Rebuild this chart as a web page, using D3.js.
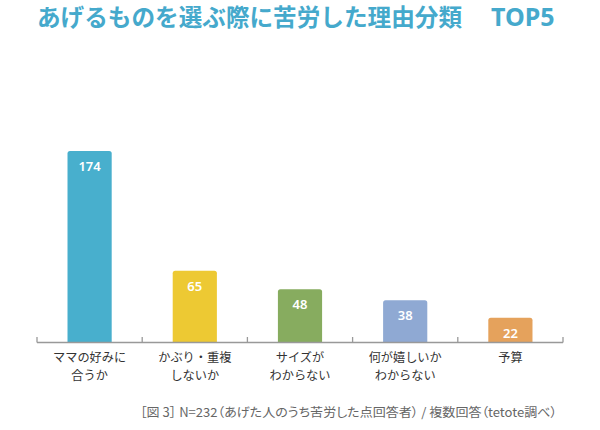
<!DOCTYPE html>
<html><head><meta charset="utf-8">
<script src="https://cdn.jsdelivr.net/npm/d3@7"></script>
<style>
body{margin:0;background:#fff;}
svg{display:block;font-family:"Noto Sans CJK JP","Noto Sans",sans-serif;}
.foot{font-feature-settings:"palt";}
</style></head>
<body>
<svg id="chart" width="600" height="430"></svg>
<script>
const categories = [["ママの好みに","合うか"],["かぶり・重複","しないか"],["サイズが","わからない"],["何が嬉しいか","わからない"],["予算"]];
const values = [174, 65, 48, 38, 22];
const colors = ["#48AFCD", "#EDC933", "#87AC5F", "#8FA9D3", "#E5A25C"];
const titleText = "あげるものを選ぶ際に苦労した理由分類";
const titleTop = "TOP5";
const footText = "［図 3］ N=232（あげた人のうち苦労した点回答者） / 複数回答（tetote調べ）";

const svg = d3.select("#chart");
const x = d3.scaleBand().domain(d3.range(values.length)).range([37, 563]).paddingInner(0.58).paddingOuter(0.29);
const y = d3.scaleLinear().domain([0, 200]).range([342, 342 - 219.5]);

svg.append("text").attr("x", 37).attr("y", 26).attr("font-size", 23.5).attr("font-weight", 700)
  .attr("textLength", 425).attr("lengthAdjust", "spacingAndGlyphs")
  .attr("fill", "#45A9CC").text(titleText);
svg.append("text").attr("x", 491).attr("y", 26).attr("font-size", 25).attr("font-weight", 700)
  .attr("font-family", "'Noto Sans', sans-serif")
  .attr("fill", "#45A9CC").text(titleTop);

const r = 2.5;
svg.selectAll("path.bar").data(values).join("path").attr("class","bar")
  .attr("fill", (d,i)=>colors[i])
  .attr("d", (d,i)=>{
    const x0 = x(i), w = x.bandwidth(), y0 = y(d), yb = y(0);
    return `M${x0},${yb}V${y0+r}Q${x0},${y0} ${x0+r},${y0}H${x0+w-r}Q${x0+w},${y0} ${x0+w},${y0+r}V${yb}Z`;
  });

svg.selectAll("text.val").data(values).join("text").attr("class","val")
  .attr("x", (d,i)=>x(i)+x.bandwidth()/2).attr("y", d=>y(d)+20)
  .attr("text-anchor","middle").attr("font-size",13).attr("font-weight",600).attr("fill","#fff")
  .attr("font-family", "'Noto Sans', sans-serif")
  .text(d=>d);

// axis
const axisG = svg.append("g");
axisG.append("line").attr("x1",37).attr("x2",563).attr("y1",342.5).attr("y2",342.5).attr("stroke","#999").attr("stroke-width",1.3);
const step = x.step();
axisG.selectAll("line.tick").data(d3.range(values.length+1)).join("line").attr("class","tick")
  .attr("x1", i=>37 + i*step).attr("x2", i=>37 + i*step).attr("y1",337).attr("y2",342.5)
  .attr("stroke","#999").attr("stroke-width",1.3);

const lines = [];
categories.forEach((c,i)=>c.forEach((t,j)=>lines.push({i, j, t})));
svg.selectAll("text.cat").data(lines).join("text").attr("class","cat")
  .attr("x", d=>x(d.i)+x.bandwidth()/2).attr("y", d=>362 + d.j*17.5).attr("text-anchor","middle")
  .attr("font-size",12.2).attr("fill","#333").text(d=>d.t);

svg.append("text").attr("class","foot").attr("x",557).attr("y",417).attr("text-anchor","end").attr("font-size",12.5)
  .attr("textLength", 417).attr("lengthAdjust","spacingAndGlyphs")
  .attr("fill","#666").text(footText);
</script>
</body></html>
